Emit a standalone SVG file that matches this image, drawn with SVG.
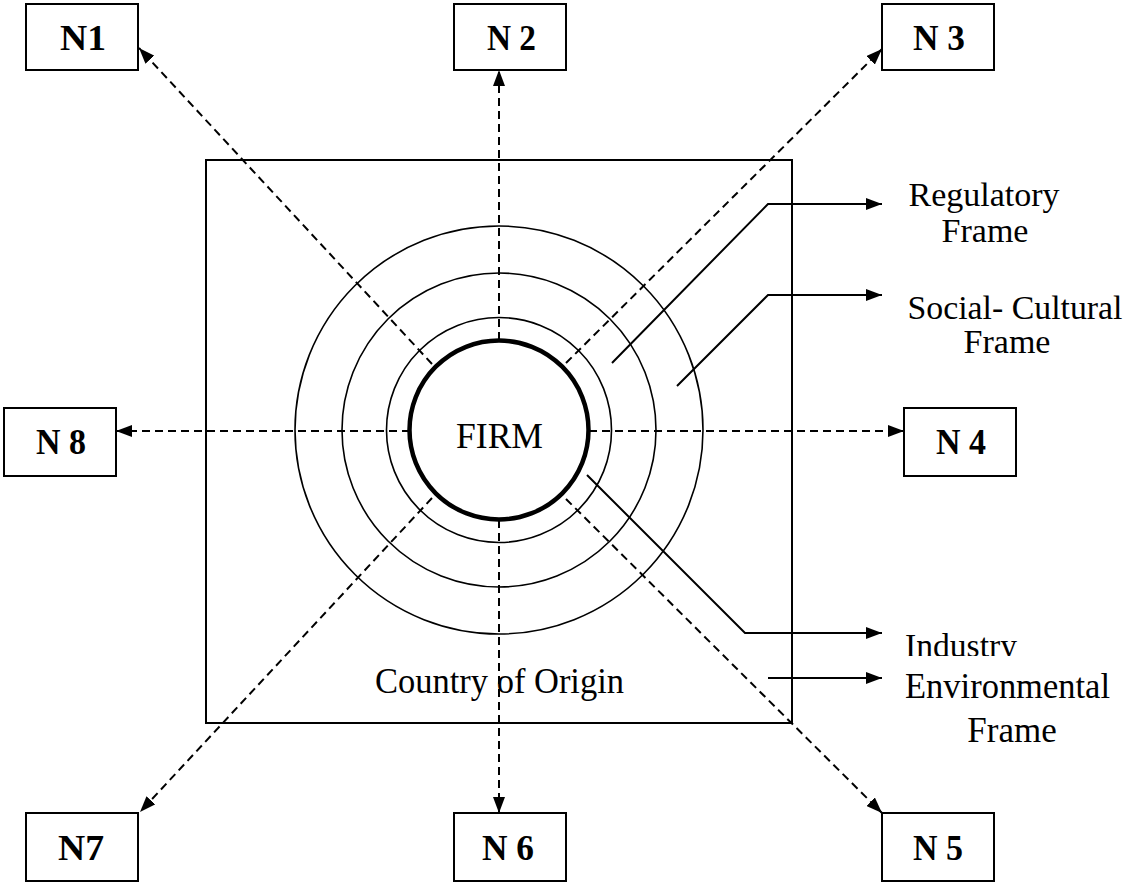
<svg xmlns="http://www.w3.org/2000/svg" width="1128" height="884" viewBox="0 0 1128 884">
<style>
.box{fill:#fff;stroke:#000;stroke-width:2}
.nl{font-family:"Liberation Serif","Times New Roman",serif;font-weight:bold;font-size:36px;text-anchor:middle;fill:#000}
.t{font-family:"Liberation Serif","Times New Roman",serif;fill:#000}
.ring{fill:none;stroke:#000;stroke-width:1.6}
.dash{fill:none;stroke:#000;stroke-width:2;stroke-dasharray:8 5;marker-end:url(#ah)}
.lead{fill:none;stroke:#000;stroke-width:2;marker-end:url(#ah)}
</style>
<defs>
<marker id="ah" markerUnits="userSpaceOnUse" markerWidth="16" markerHeight="12" refX="16" refY="6" orient="auto">
<path d="M0,0 L16,6 L0,12 z" fill="#000"/>
</marker>
<clipPath id="indclip"><rect x="880" y="600" width="200" height="56"/></clipPath>
</defs>
<rect width="1128" height="884" fill="#fff"/>
<g id="country">
<rect x="206" y="160" width="586" height="563" fill="none" stroke="#000" stroke-width="2"/>
<text class="t" x="375" y="693" font-size="36" textLength="249" lengthAdjust="spacingAndGlyphs">Country of Origin</text>
</g>
<g id="rings">
<circle class="ring" cx="499" cy="430" r="204"/>
<circle class="ring" cx="499" cy="430" r="157"/>
<circle class="ring" cx="499" cy="430" r="112.5"/>
</g>
<g id="connectors">
<line class="dash" x1="432" y1="364" x2="139" y2="48"/>
<line class="dash" x1="499" y1="340" x2="499" y2="70"/>
<line class="dash" x1="566" y1="363" x2="882" y2="49"/>
<line class="dash" x1="589" y1="431" x2="904" y2="431"/>
<line class="dash" x1="566" y1="499" x2="882" y2="813"/>
<line class="dash" x1="499" y1="520" x2="499" y2="813"/>
<line class="dash" x1="432" y1="498" x2="140" y2="812"/>
<line class="dash" x1="410" y1="431" x2="116" y2="431"/>
<polyline class="lead" points="612,363 768,204 882,204"/>
<polyline class="lead" points="677,386 768,295 882,295"/>
<polyline class="lead" points="587,475 745,633 882,633"/>
<polyline class="lead" points="768,678 882,678"/>
</g>
<g id="firm">
<circle cx="499" cy="430" r="89.5" fill="#fff" stroke="#000" stroke-width="4.5"/>
<text class="t" x="499.5" y="448" font-size="36" text-anchor="middle" textLength="87" lengthAdjust="spacingAndGlyphs">FIRM</text>
</g>
<g id="labels">
<text class="t" x="984" y="206" font-size="34" text-anchor="middle">Regulatory</text>
<text class="t" x="985" y="242" font-size="34" text-anchor="middle">Frame</text>
<text class="t" x="1015" y="319" font-size="34" text-anchor="middle" textLength="215" lengthAdjust="spacingAndGlyphs">Social- Cultural</text>
<text class="t" x="1007" y="353" font-size="34" text-anchor="middle">Frame</text>
<text class="t" x="905" y="657" font-size="34" textLength="112" lengthAdjust="spacingAndGlyphs" clip-path="url(#indclip)">Industry</text>
<text class="t" x="905" y="698" font-size="35" textLength="205" lengthAdjust="spacingAndGlyphs">Environmental</text>
<text class="t" x="1012" y="742" font-size="35" text-anchor="middle">Frame</text>
</g>
<g id="N1"><rect class="box" x="26" y="4" width="112" height="66"/><text class="nl" x="83" y="50" textLength="46" lengthAdjust="spacingAndGlyphs">N1</text></g>
<g id="N2"><rect class="box" x="454" y="4" width="112" height="66"/><text class="nl" x="511.5" y="50" textLength="49" lengthAdjust="spacingAndGlyphs">N 2</text></g>
<g id="N3"><rect class="box" x="882" y="4" width="112" height="66"/><text class="nl" x="939" y="50" textLength="52" lengthAdjust="spacingAndGlyphs">N 3</text></g>
<g id="N4"><rect class="box" x="904" y="408" width="112" height="68"/><text class="nl" x="961" y="454" textLength="50" lengthAdjust="spacingAndGlyphs">N 4</text></g>
<g id="N5"><rect class="box" x="882" y="813" width="112" height="68"/><text class="nl" x="938" y="860" textLength="50" lengthAdjust="spacingAndGlyphs">N 5</text></g>
<g id="N6"><rect class="box" x="454" y="813" width="112" height="68"/><text class="nl" x="508" y="860" textLength="52" lengthAdjust="spacingAndGlyphs">N 6</text></g>
<g id="N7"><rect class="box" x="26" y="813" width="112" height="68"/><text class="nl" x="81" y="860" textLength="46" lengthAdjust="spacingAndGlyphs">N7</text></g>
<g id="N8"><rect class="box" x="4" y="408" width="112" height="68"/><text class="nl" x="61" y="454" textLength="50" lengthAdjust="spacingAndGlyphs">N 8</text></g>
</svg>
